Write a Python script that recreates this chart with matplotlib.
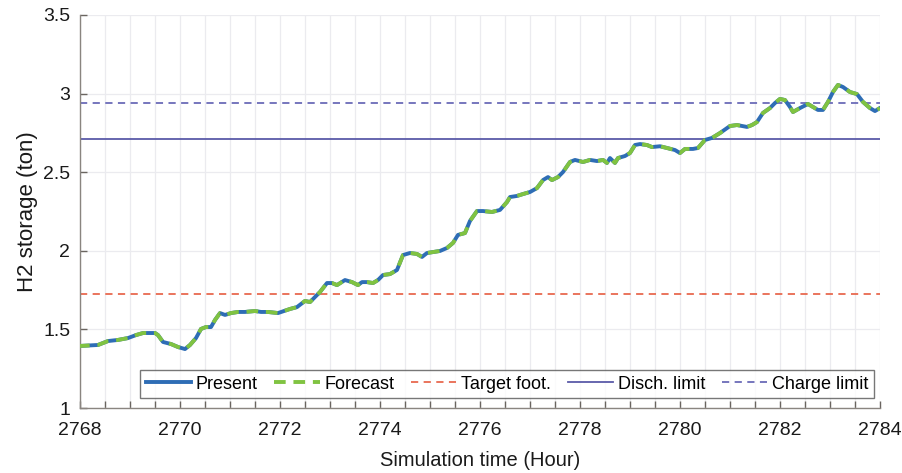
import numpy as np
import matplotlib.pyplot as plt
from matplotlib.ticker import MultipleLocator, FormatStrFormatter

plt.rcParams['font.family'] = ['Liberation Sans', 'DejaVu Sans']

# hydrogen storage trajectory (hour, ton)
hours = [2767.96, 2768.36, 2768.56, 2768.76, 2768.96, 2769.12, 2769.26, 2769.5,
         2769.56, 2769.66, 2769.82, 2769.96, 2770.1, 2770.2, 2770.32, 2770.42,
         2770.52, 2770.62, 2770.7, 2770.8, 2770.9, 2771.02, 2771.16, 2771.3,
         2771.5, 2771.62, 2771.76, 2771.96, 2772.2, 2772.34, 2772.5, 2772.6,
         2772.7, 2772.8, 2772.94, 2773.04, 2773.14, 2773.3, 2773.44, 2773.56,
         2773.64, 2773.74, 2773.86, 2773.96, 2774.06, 2774.2, 2774.34, 2774.46,
         2774.6, 2774.74, 2774.84, 2774.94, 2775.06, 2775.2, 2775.34, 2775.46,
         2775.56, 2775.7, 2775.8, 2775.94, 2776.06, 2776.24, 2776.4, 2776.54,
         2776.6, 2776.74, 2776.86, 2777.0, 2777.14, 2777.26, 2777.36, 2777.44,
         2777.56, 2777.66, 2777.8, 2777.9, 2778.06, 2778.2, 2778.34, 2778.46,
         2778.54, 2778.6, 2778.7, 2778.76, 2778.9, 2779.0, 2779.1, 2779.2,
         2779.34, 2779.44, 2779.6, 2779.74, 2779.9, 2780.0, 2780.1, 2780.26,
         2780.36, 2780.5, 2780.64, 2780.8, 2781.0, 2781.14, 2781.34, 2781.44,
         2781.54, 2781.66, 2781.8, 2781.9, 2782.0, 2782.1, 2782.2, 2782.26,
         2782.4, 2782.56, 2782.66, 2782.76, 2782.86, 2782.96, 2783.06, 2783.16,
         2783.26, 2783.4, 2783.54, 2783.66, 2783.8, 2783.9, 2784.0]
storage = [1.394, 1.401, 1.426, 1.433, 1.445, 1.464, 1.477, 1.477,
           1.464, 1.420, 1.407, 1.388, 1.375, 1.401, 1.445, 1.503,
           1.515, 1.515, 1.560, 1.604, 1.592, 1.604, 1.611, 1.611,
           1.617, 1.611, 1.611, 1.604, 1.630, 1.642, 1.681, 1.674,
           1.706, 1.738, 1.795, 1.795, 1.782, 1.814, 1.801, 1.782,
           1.801, 1.801, 1.795, 1.814, 1.846, 1.852, 1.878, 1.973,
           1.986, 1.980, 1.961, 1.986, 1.992, 1.999, 2.018, 2.050,
           2.101, 2.113, 2.190, 2.253, 2.253, 2.247, 2.260, 2.310,
           2.342, 2.349, 2.361, 2.374, 2.399, 2.450, 2.469, 2.450,
           2.469, 2.501, 2.565, 2.578, 2.565, 2.578, 2.571, 2.578,
           2.559, 2.590, 2.559, 2.590, 2.603, 2.622, 2.673, 2.679,
           2.673, 2.660, 2.665, 2.654, 2.641, 2.622, 2.648, 2.648,
           2.654, 2.705, 2.718, 2.749, 2.794, 2.800, 2.788, 2.800,
           2.819, 2.877, 2.908, 2.940, 2.966, 2.959, 2.915, 2.883,
           2.908, 2.934, 2.915, 2.896, 2.896, 2.947, 3.010, 3.055,
           3.042, 3.010, 2.997, 2.947, 2.908, 2.889, 2.908]

target_foot = 1.725
disch_limit = 2.712
charge_limit = 2.94

fig = plt.figure(figsize=(9.03, 4.73), dpi=100)
ax = fig.add_axes([0.0886, 0.1374, 0.8859, 0.8309])

t = np.array(hours)
s = np.array(storage)

ax.plot(t, s, color='#2e6db5', lw=2.8, label='Present', zorder=3)
ax.plot(t, s, color='#80c341', lw=2.8, ls=(0, (3.0, 2.0)), label='Forecast', zorder=4)
ax.axhline(target_foot, color='#e8694f', lw=1.3, ls=(0, (4, 3)), label='Target foot.')
ax.axhline(disch_limit, color='#5a5aa8', lw=1.3, label='Disch. limit')
ax.axhline(charge_limit, color='#6b6bb8', lw=1.3, ls=(0, (4, 3)), label='Charge limit')

ax.set_xlim(2768, 2784)
ax.set_ylim(1, 3.5)
ax.xaxis.set_major_locator(MultipleLocator(2))
ax.xaxis.set_minor_locator(MultipleLocator(0.5))
ax.yaxis.set_major_locator(MultipleLocator(0.5))
ax.yaxis.set_major_formatter(FormatStrFormatter('%g'))

ax.grid(True, which='both', axis='x', color='#ebebef', lw=0.9)
ax.grid(True, which='major', axis='y', color='#ebebef', lw=0.9)
ax.set_axisbelow(True)

for side in ['top', 'right']:
    ax.spines[side].set_visible(False)
for side in ['left', 'bottom']:
    ax.spines[side].set_color('#8a8580')
    ax.spines[side].set_linewidth(1.0)

ax.tick_params(which='both', direction='in', color='#6a6560', labelsize=14,
               labelcolor='#1a1a1a', length=5, width=1.0)
ax.tick_params(axis='x', which='major', pad=10)
ax.tick_params(axis='y', which='major', pad=7)

ax.set_xlabel('Simulation time (Hour)', fontsize=14.5, color='#1a1a1a', labelpad=9)
ax.set_ylabel('H2 storage (ton)', fontsize=16, color='#1a1a1a', labelpad=4)

leg = ax.legend(loc='lower right', bbox_to_anchor=(0.992, 0.025), ncol=5,
                fontsize=13, frameon=True, fancybox=False, handlelength=2.5,
                handletextpad=0.25, columnspacing=0.95, borderpad=0.3,
                borderaxespad=0)
leg.get_frame().set_edgecolor('#555555')
leg.get_frame().set_linewidth(1.0)

fig.savefig('out.png', dpi=100)
